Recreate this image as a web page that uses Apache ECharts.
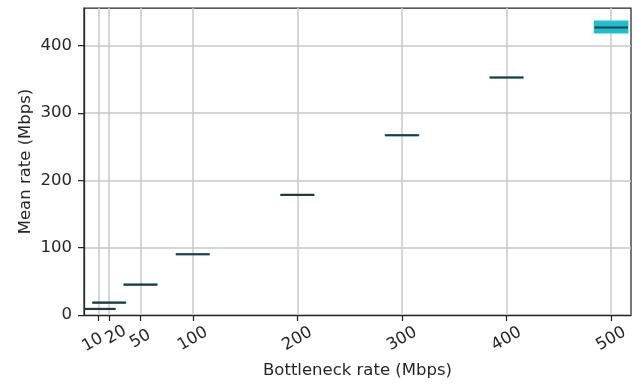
<!DOCTYPE html>
<html>
<head>
<meta charset="utf-8">
<script src="https://cdn.jsdelivr.net/npm/echarts@6/dist/echarts.min.js"></script>
<style>
  html, body { margin: 0; padding: 0; background: #fff; }
  #chart { width: 636px; height: 384px; }
</style>
</head>
<body>
<div id="chart"></div>
<script>
// bottleneck rates and the box stats of the mean rate per rate
const rates = [10, 20, 50, 100, 200, 300, 400, 500];
const q1 = [8.5, 17.8, 44.6, 89.6, 177.8, 266.4, 352.2, 419];
const medians = [9, 18.3, 45, 90.2, 178.4, 267, 352.8, 427];
const q3 = [9.5, 18.8, 45.6, 90.8, 179, 267.8, 353.4, 436.5];
const xTicks = [10, 20, 50, 100, 200, 300, 400, 500];
const yTicks = [0, 100, 200, 300, 400];

const boxWidth = 32;
const textColor = "#262626";
const fontSize = 16.5;

const boxData = rates.map((r, i) => [r, q1[i], medians[i], q3[i]]);

// tick labels split over two axes so that close ones are not dropped
const xLabelsA = xTicks.filter((v, i) => i % 2 === 0);
const xLabelsB = xTicks.filter((v, i) => i % 2 === 1);

const font = { color: textColor, fontSize: fontSize, fontFamily: "DejaVu Sans" };

const labelStyle = Object.assign({
  rotate: 30,
  align: "center",
  verticalAlign: "middle",
  margin: 24,
  hideOverlap: false,
  // 10 and 20 sit too close, nudge them apart along the text
  formatter: function (v) {
    if (v === 10) return "{l|10}";
    if (v === 20) return "{r|20}";
    return "{n|" + v + "}";
  },
  rich: {
    l: Object.assign({ padding: [0, 14, 0, 0] }, font),
    r: Object.assign({ padding: [0, 0, 0, 16] }, font),
    n: Object.assign({}, font)
  }
}, font);

const chart = echarts.init(document.getElementById("chart"));

chart.setOption({
  animation: false,
  grid: {
    left: 84,
    right: 5,
    top: 8,
    bottom: 69,
    show: true,
    borderColor: textColor,
    borderWidth: 1.25
  },
  xAxis: [
    {
      type: "value",
      min: -4,
      max: 519,
      position: "bottom",
      name: "Bottleneck rate (Mbps)",
      nameLocation: "middle",
      nameGap: 47,
      nameTextStyle: font,
      axisLine: { show: true, onZero: false, lineStyle: { color: textColor, width: 1.25 } },
      axisTick: { show: true, length: 6, customValues: xTicks, lineStyle: { color: textColor, width: 1.25 } },
      axisLabel: Object.assign({ customValues: xLabelsA }, labelStyle),
      splitLine: { show: true, lineStyle: { color: "#c8c8c8", width: 1.5 } }
    },
    {
      type: "value",
      min: -4,
      max: 519,
      position: "bottom",
      offset: 0,
      axisLine: { show: false, onZero: false },
      axisTick: { show: false },
      axisLabel: Object.assign({ customValues: xLabelsB }, labelStyle),
      splitLine: { show: false }
    }
  ],
  yAxis: {
    type: "value",
    min: 0,
    max: 456,
    name: "Mean rate (Mbps)",
    nameLocation: "middle",
    nameGap: 50,
    nameMoveOverlap: false,
    nameTextStyle: font,
    axisLine: { show: true, onZero: false, lineStyle: { color: textColor, width: 1.25 } },
    axisTick: { show: true, length: 6, customValues: yTicks, lineStyle: { color: textColor, width: 1.25 } },
    axisLabel: Object.assign({ customValues: yTicks, margin: 12 }, font),
    splitLine: { show: true, lineStyle: { color: "#c8c8c8", width: 1.5 } }
  },
  series: [
    {
      type: "custom",
      clip: true,
      xAxisIndex: 0,
      data: boxData,
      encode: { x: 0, y: [1, 2, 3] },
      renderItem: function (params, api) {
        const x = api.value(0);
        const lo = api.coord([x - boxWidth / 2, api.value(1)]);
        const hi = api.coord([x + boxWidth / 2, api.value(3)]);
        const med = api.coord([x, api.value(2)]);
        const cs = params.coordSys;
        const shape = echarts.graphic.clipRectByRect(
          { x: lo[0], y: hi[1], width: hi[0] - lo[0], height: lo[1] - hi[1] },
          { x: cs.x, y: cs.y, width: cs.width, height: cs.height }
        );
        const lineX1 = Math.max(lo[0], cs.x);
        return {
          type: "group",
          children: [
            {
              type: "rect",
              shape: shape,
              style: { fill: "#1cbfd2", stroke: "#1cbfd2", lineWidth: 1.2 }
            },
            {
              type: "line",
              shape: { x1: lineX1, y1: med[1], x2: hi[0], y2: med[1] },
              style: { stroke: "#243a3f", lineWidth: 2.2 }
            }
          ]
        };
      }
    }
  ]
});
</script>
</body>
</html>
